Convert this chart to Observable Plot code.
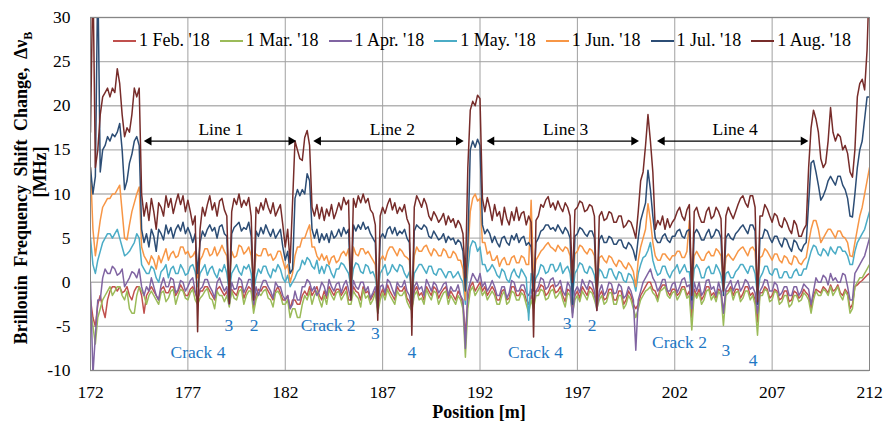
<!DOCTYPE html>
<html><head><meta charset="utf-8">
<script src="https://cdn.jsdelivr.net/npm/d3@7"></script>
<script src="https://cdn.jsdelivr.net/npm/@observablehq/plot@0.6"></script>
<style>
body{margin:0;background:#fff;}
#chart{position:relative;width:883px;height:421px;font-family:"Liberation Serif","Times New Roman",serif;}
#legend{position:absolute;left:113px;top:30px;display:flex;align-items:center;font-size:18px;color:#000;white-space:nowrap;}
.item{display:flex;align-items:center;margin-right:10px;}
.sw{width:23px;height:2px;margin-right:3px;}
</style></head><body><div id="chart"><div id="legend"></div></div>
<script>
const seriesNames = ["1 Feb. '18","1 Mar. '18","1 Apr. '18","1 May. '18","1 Jun. '18","1 Jul. '18","1 Aug. '18"];
const seriesColors = ["#C0504D","#9BBB59","#8064A2","#4BACC6","#F79646","#2C4D75","#772C2A"];
const xTicks = [172,177,182,187,192,197,202,207,212];
const yTicks = [-10,-5,0,5,10,15,20,25,30];

const position = [
172,172.125,172.25,172.375,172.5,172.625,172.75,172.875,
173,173.125,173.25,173.375,173.5,173.625,173.75,173.875,
174,174.125,174.25,174.375,174.5,174.625,174.75,174.875,
175,175.125,175.25,175.375,175.5,175.625,175.75,175.875,
176,176.125,176.25,176.375,176.5,176.625,176.75,176.875,
177,177.125,177.25,177.375,177.5,177.625,177.75,177.875,
178,178.125,178.25,178.375,178.5,178.625,178.75,178.875,
179,179.125,179.25,179.375,179.5,179.625,179.75,179.875,
180,180.125,180.25,180.375,180.5,180.625,180.75,180.875,
181,181.125,181.25,181.375,181.5,181.625,181.75,181.875,
182,182.125,182.25,182.375,182.5,182.625,182.75,182.875,
183,183.125,183.25,183.375,183.5,183.625,183.75,183.875,
184,184.125,184.25,184.375,184.5,184.625,184.75,184.875,
185,185.125,185.25,185.375,185.5,185.625,185.75,185.875,
186,186.125,186.25,186.375,186.5,186.625,186.75,186.875,
187,187.125,187.25,187.375,187.5,187.625,187.75,187.875,
188,188.125,188.25,188.375,188.5,188.625,188.75,188.875,
189,189.125,189.25,189.375,189.5,189.625,189.75,189.875,
190,190.125,190.25,190.375,190.5,190.625,190.75,190.875,
191,191.125,191.25,191.375,191.5,191.625,191.75,191.875,
192,192.125,192.25,192.375,192.5,192.625,192.75,192.875,
193,193.125,193.25,193.375,193.5,193.625,193.75,193.875,
194,194.125,194.25,194.375,194.5,194.625,194.75,194.875,
195,195.125,195.25,195.375,195.5,195.625,195.75,195.875,
196,196.125,196.25,196.375,196.5,196.625,196.75,196.875,
197,197.125,197.25,197.375,197.5,197.625,197.75,197.875,
198,198.125,198.25,198.375,198.5,198.625,198.75,198.875,
199,199.125,199.25,199.375,199.5,199.625,199.75,199.875,
200,200.125,200.25,200.375,200.5,200.625,200.75,200.875,
201,201.125,201.25,201.375,201.5,201.625,201.75,201.875,
202,202.125,202.25,202.375,202.5,202.625,202.75,202.875,
203,203.125,203.25,203.375,203.5,203.625,203.75,203.875,
204,204.125,204.25,204.375,204.5,204.625,204.75,204.875,
205,205.125,205.25,205.375,205.5,205.625,205.75,205.875,
206,206.125,206.25,206.375,206.5,206.625,206.75,206.875,
207,207.125,207.25,207.375,207.5,207.625,207.75,207.875,
208,208.125,208.25,208.375,208.5,208.625,208.75,208.875,
209,209.125,209.25,209.375,209.5,209.625,209.75,209.875,
210,210.125,210.25,210.375,210.5,210.625,210.75,210.875,
211,211.125,211.25,211.375,211.5,211.625,211.75,211.875,
212];

const feb = [
-2,-4,-5,-2.5,-1.5,-3,-4,-2,
-1,-0.5,-0.5,-1,-0.5,-1.2,-1,-0.5,
-1.5,-2,-1,-0.5,-0.5,-1.5,-3.5,-1.5,
-1,-0.5,-1,-1.5,-2,-0.8,-0.5,-1.2,
-1.2,-0.5,-0.5,-1.5,-1,-0.3,-0.8,-1.5,
-1.5,-0.8,-0.5,-1.2,-2,-1,-1,-0.5,
-0.5,-1,-1.5,-2,-0.8,-0.5,-1,-1.5,
-1,-2.5,-0.8,-1.2,-1.5,-0.5,-0.5,-1.8,
-1,-0.5,-0.8,-3,-1.5,-0.8,-1,-0.5,
-0.5,-1,-1.5,-2,-1,-0.5,-1.2,-2,
-2,-1.5,-3,-2,-2,-2.5,-2.5,-1.5,
-1,-1.5,-0.5,-1.5,-1,-0.5,-1.5,-2,
-1,-1.8,-0.5,-1,-1.5,-0.8,-0.8,-1.5,
-1,-0.5,-2,-2,-0.5,-1,-1.2,-2,
-0.5,-1.2,-1,-2,-1.5,-1,-3,-1.5,
-0.8,-1.5,-0.3,-1,-1.5,-2,-0.5,-1,
-1,-0.5,-1.8,-2.2,-3,-1,-0.5,-1.5,
-1.2,-2,-0.5,-1,-1.5,-0.5,-0.8,-1.8,
-1.2,-0.8,-0.5,-1.8,-1,-1.5,-2,-1,
-1.5,-2.5,-6,-2,-0.5,0,-1,-0.5,
0,-1,-0.5,-1.5,-1,-0.5,-1,-2,
-2,-1,-0.8,-2,-1.8,-0.5,-0.5,-1.5,
-1.5,-0.8,-1,-2,-2.5,-1.5,-2.5,-1,
-1,-0.3,-0.5,-1.5,-1.2,-0.5,-0.3,-1.2,
-1,-0.5,-1.5,-2.2,-0.8,-1,-3,-1.5,
-1,-1.8,-0.5,-1,-1.5,-0.5,-0.8,-1.5,
-2.5,-1.5,-1,-2,-1.8,-0.8,-0.8,-2,
-2,-1,-1,-2.5,-2,-1,-1.5,-2.5,
-3,-2.5,-1.5,-1,-0.5,0,0,-0.8,
-1,-1.8,-0.8,-0.3,-0.3,-1,-1.5,-0.8,
-0.8,-1.5,-1.2,-0.5,-0.5,-1.5,-1,-4,
-0.8,-1.5,-0.8,-2,-1.5,-0.5,-0.5,-1.5,
-1.2,-1.8,-0.8,-1,-3.5,-1,-1,-0.5,
-1.5,-0.8,-0.8,-1.8,-1.3,-0.5,-0.5,-1.5,
-1.2,-2,-4.5,-1.2,-1.2,-0.5,-0.8,-1.8,
-1.5,-0.8,-1,-2,-1.8,-1,-1,-2.2,
-2,-1,-1.2,-1.8,-1.5,-0.8,-1.2,-1.5,
-3,-1.5,-0.8,-1,-1.2,-0.5,-0.8,-1.2,
-0.3,-1,-0.8,-0.3,-1.2,-1.5,-0.8,-1.2,
-3,-2.5,-0.5,-0.3,0,0.2,0.5,0.8,
1];

const mar = [
-3,-5,-7,-4,-3,-2,-1.5,-1,
-0.5,-1.5,-1,-0.5,-0.5,-1.5,-2,-1,
-3,-3.5,-3.5,-1.5,-0.5,-1,-1.5,-2.5,
-1.5,-1,-1.5,-2,-2.5,-1.2,-1,-2.2,
-1.8,-1,-0.8,-2.5,-1.5,-0.8,-1,-1.8,
-2,-1.2,-0.8,-2,-2.5,-1.8,-1.5,-1,
-0.7,-1.8,-2,-3,-1,-1.5,-1.5,-2.2,
-1.5,-2.8,-1,-1.8,-2,-1,-0.8,-2.5,
-1.5,-1,-1,-3.5,-2,-1.2,-1.5,-1,
-0.8,-1.8,-2,-2.8,-1.2,-1,-1.5,-2.5,
-2.5,-2,-4,-3,-3,-4,-4,-2.5,
-1.5,-2,-1,-2.5,-1.5,-1,-2,-2.8,
-1.5,-2.5,-0.8,-1.5,-2,-1.2,-1,-2,
-1.5,-1,-2.5,-2.5,-1,-1.5,-1.8,-2.8,
-0.8,-1.8,-1.5,-2.5,-2,-1.2,-3.5,-2,
-1.2,-2,-0.8,-1.5,-2,-2.5,-1,-1.5,
-1.5,-1,-2.2,-2.8,-3.2,-1.5,-1,-2,
-1.8,-2.5,-0.8,-1.5,-2,-1,-1.2,-2.5,
-1.8,-1.2,-1,-2.5,-1.5,-2,-2.5,-1.5,
-2,-3,-8.5,-3,-1,-0.5,-1.5,-1,
-0.5,-1.5,-1,-2,-1.5,-1,-1.5,-2.5,
-2.5,-1.5,-1,-2.5,-2.2,-1,-1.2,-2,
-2,-1.2,-1.5,-2.5,-3.5,-2,-3,-1.5,
-1.5,-0.8,-1,-2,-1.8,-1,-0.8,-1.8,
-1.5,-1,-2,-2.8,-1.2,-1.5,-3.5,-2,
-1.5,-2.2,-1,-1.5,-2,-1,-1.2,-2,
-3,-2,-1.5,-2.5,-2.2,-1.2,-1.2,-2.5,
-2.5,-1.5,-1.5,-3,-2.5,-1.5,-2,-3,
-4,-3,-2,-1.5,-1,-0.8,-0.5,-1.2,
-1.5,-2.2,-1,-0.8,-0.5,-1.5,-1.8,-1.2,
-1,-2,-1.5,-0.8,-0.8,-1.8,-1.5,-5.4,
-1.2,-1.8,-1.2,-2.5,-2,-1,-0.8,-2,
-1.5,-2.2,-1,-1.5,-4.9,-1.5,-1.2,-0.8,
-2,-1.2,-1,-2.2,-1.8,-1,-1,-2,
-1.5,-2.5,-6,-1.5,-1.5,-0.8,-1,-2.2,
-2,-1,-1.2,-2.5,-2.2,-1.5,-1.5,-2.8,
-2.5,-1.5,-1.5,-2.2,-2,-1.2,-1.5,-2,
-3.5,-2,-1,-1.5,-1.5,-0.8,-1,-1.5,
-0.5,-1.5,-1,-0.5,-1.5,-2,-1,-1.5,
-3.5,-3,-0.5,0,0.5,0.5,1,1.5,
2];

const apr = [
0,-10.5,-6,-2,-2,0.5,1.5,1,
1,1.8,1.5,0.8,1,1.5,-0.5,0,
0.5,1.2,1,0.5,1.5,-0.5,-1.5,-0.5,
-1,0.5,-0.5,-1.5,-2,-0.3,0.5,-0.5,
-0.5,0.5,0.3,-1.2,-0.8,0.2,0,-1,
-0.5,0.2,0.5,-1,-2,-0.8,-0.5,0.3,
0.3,-0.5,-1,-1.8,0,0.5,-0.3,-1,
-0.5,-2.5,0,-0.8,-0.7,0.5,0.2,-1.2,
-0.5,0.3,0.3,-2.5,-0.5,-1.5,-0.5,0.2,
0.2,-0.5,-1,-1.8,0,-0.5,-0.5,-1.5,
-2,-1.5,-3,-2.5,-1,-2,-2,-0.5,
-0.5,0.3,0,-1,-0.5,-1.5,-1,0,
-0.5,-1.5,0.3,-0.5,-1,-0.2,0,-1.2,
-0.3,0.2,-0.8,-2,0.2,-0.5,-0.8,0,
0,-1,-0.5,-1.8,-1.2,-0.5,-3,-0.5,
-0.3,-1.2,0.3,0,-0.8,-1.5,0,-0.5,
-0.5,0.2,-1,-1.5,-3,-0.5,0,-0.8,
-0.5,-1.5,0.3,-0.3,-1,0,-0.3,-1.2,
-0.8,-0.2,0,-1.5,-0.5,-1,-1,-0.3,
-1.5,-2,-7.5,-1,0,1,0.5,0,
1,-0.5,0,-1,-0.5,0.2,-0.5,-1.5,
-1.5,-0.5,-0.5,-1.8,-1.2,0.2,0,-1,
-1,-0.3,-0.3,-1.2,-1.5,-0.8,-2.5,-1,
-0.5,0.5,0.3,-0.8,-0.5,0.3,0.5,-0.5,
-0.3,0.2,-1,-1.5,0,-0.5,-4,-1,
-0.5,-1.2,0.3,-0.3,-0.8,0.2,0,-1,
-3.2,-1,-0.3,-1.5,-1,0,-0.2,-1.3,
-1.2,-0.2,-0.5,-1.8,-1.5,-0.5,-1,-2,
-7.7,-2,-1,0,0.5,1,1.5,0.5,
0,-1,-0.5,0.3,0.3,-1,-1,-0.2,
0,-1.2,-0.5,0.3,0.5,-0.5,-0.3,-3,
0,-1,0,-1.5,-1,0.2,0.3,-0.8,
-0.5,-1.5,0,-1,-3.5,-0.8,-0.3,0.2,
-1,-0.3,0.2,-1,-0.5,0.3,0,-0.8,
-0.5,-1.2,-3.5,-1,-0.5,0.3,0.2,-1,
-1,0,-0.3,-1.5,-1.2,-0.5,-0.5,-1.5,
-1.5,-0.5,-0.5,-1.5,-1,-0.2,-0.5,-0.8,
-2.5,-1,0.5,0,0,0.8,0.5,-0.3,
1,0.2,0.5,0,0,1,0.8,-0.5,
-2,-2,1,1.5,2,2.5,3,4,
5];

const may = [
5,2,1,2.5,3.5,4.5,5,5.5,
5.5,5,5.5,6,5,4,3,3.2,
3.5,4,4.5,5.5,5,2,1.5,1,
1,1.8,1.5,0.5,0,1.2,1.5,2,
0.5,1.5,1.8,1,1,2,1.5,0.8,
1,1.8,2,1.2,-0.5,1,1.5,2,
0.8,1.5,1.8,1,0.5,1.5,1.2,2,
1,-1,1,1.5,2,1.2,0.8,1.8,
1.5,2,1,-1,0.5,1.5,1,1.8,
1.8,1,0.5,1.5,1.2,2,1.5,0.5,
0,0.8,-0.5,0,0.5,1.2,1.5,2.5,
2,2.8,2.5,1.8,1.5,2.5,1,1.8,
1,2,1.8,1,0.5,1.5,1.5,2.2,
2,1.5,1,-0.5,1.5,2.2,2,1.2,
1,2,1.8,1,1.2,0.5,-1.5,1,
1.5,2,0.8,1.2,2,1.5,1.2,2,
1.8,1,0.5,1.2,-1.5,1,1.5,2,
2,1.5,1,1.8,1.8,1,0.8,1.5,
1.5,1,0.5,1.2,1.2,0.5,0.8,1.2,
0.5,0,-2.5,1.5,4,4.7,4.5,3.5,
4,2,2,1.2,1.5,2,1.5,0.8,
0.5,1.5,1.2,0.3,0,1,1.5,0.8,
0.5,1.5,1,0.5,-4.3,1,-0.5,0.5,
1,2,1.8,1,1.2,2,2,1.2,
1.5,2.2,1,1.5,1.8,1,-1.5,1,
1.5,2.2,2,1.2,1,1.8,1.5,0.8,
-1,1.5,1.2,0.5,0.5,1.5,1.5,0.8,
0.3,1.2,1,0.2,0,1,0.8,0.2,
-1,1,2,2.8,3,3.6,4.5,2.5,
1.5,0.8,1,1.8,1.8,1,0.5,1.2,
1.5,2,1,1.5,2,1.2,1.2,-1.5,
1.5,2,1.5,0.5,0.5,1.5,1.8,1,
1,2,1.5,0.8,-1,1,1.2,0.5,
0.5,1.2,1.5,2,2,1.5,1,1.8,
1.8,1,-1.5,0.5,1,1.8,1.8,1,
0.8,1.5,1.5,0.5,0.5,1.2,1.2,0.5,
0.5,1.2,1.5,0.8,0.8,1.5,1.5,2.5,
3.5,4.2,4,3.2,3,3.8,3.5,3,
4,3.5,3.2,4,4,3.5,3.5,3,
2,2,3.5,4.5,5,5.5,6,7,
8];

const jun = [
13,6,3,5,7,8.5,9,9.5,
9.5,10,10,10.5,11,8,5,4.8,
6.5,8,9,10,10.8,4,3,2.5,
2,3,2.5,1.5,3,2.2,3,3.8,
2.5,3.2,3.5,2.8,3,4,4,3.2,
3.5,2.8,3,3.5,0.5,2.5,3,3.8,
3.8,3,3.2,4,3,3.5,4.2,3.5,
3,-0.5,3.5,2.8,3,4.2,4,3.2,
3.5,4,3,0,3.2,3,3,3.8,
3.8,3,3.2,2.5,2.8,3.5,3.5,2.5,
1.5,2,0,1,3,4,4,5,
5,5.8,6.5,4,4,3,2.5,3.2,
2.5,3,2,2.8,3,2.2,2.5,3.2,
3.5,3,3.8,-0.5,4,3.2,3,3.8,
3.8,3.2,3.5,3,2.5,2,-2,2.5,
3,2.5,3.5,4,4,3.5,3,3.8,
3.5,3,2.8,2.5,-2,3,4,3.5,
3.5,4,4.2,3.5,3,3.8,3.5,3,
3,3.8,3.5,2.8,2.8,3.5,3.2,2.5,
2.5,1.5,-2,3,8,9.5,10,9.2,
9.5,4.5,4.5,3.2,3.5,2.5,2.5,3,
1.8,2.5,2.8,2,2,2.8,3,2.2,
2.2,3,2.8,2,2,9.3,0.5,2.5,
3,3.5,3.8,4.2,4.5,4,3.8,3.5,
4.2,3.8,3.5,4,3.8,3,-1,3.2,
3.5,4.2,4,3.5,3.2,3.8,3.6,3,
-1,2.8,3,2.5,2.2,3,2.8,2.2,
1.8,2.5,2.3,1.8,1.5,2.2,1.8,1.2,
-0.5,2.5,4,5,6,8.9,7,4.5,
3,2.5,2.5,3.2,3.2,2.8,2.5,3,
3,3.5,3.5,2.8,2.8,3.5,7,-1,
3,3.5,3,2.5,2.5,3.2,3.5,3,
3,3.8,3.5,3,-0.5,2.8,3.2,2.8,
2.5,3,3.5,3.8,4,3.5,3,3.8,
4,3.5,-1,2.8,3,3.8,3.5,3,
2.5,3.2,3.2,2.5,2.2,3,2.8,2.2,
2,3,2.8,2.2,2,2.5,2.8,4.5,
6,7,7,6,4.5,5,5.5,6,
6,5.5,5,5.8,5.8,5.2,5,4.5,
3,2.9,4.5,6,7.5,8.5,10,11.5,
13];

const jul = [
13,10,12,35,12.5,15,15.5,16.5,
16,16.8,16.5,17,18,15,10.5,11.5,
13.5,14.5,16,16.5,15.5,6,4.5,5.5,
4,6,5.2,3.5,6,5.5,4.8,6.5,
5.5,6.2,5,6,6.5,5.8,6.8,5.5,
6.2,5.5,4.5,5.5,1,4.5,5.8,5.2,
6,6.5,5.8,6.2,5,6.3,6.5,5.5,
5.2,-2.2,5.5,6.2,6.5,6.8,5.8,6.2,
6,6.8,5.2,-1.7,5.8,5.2,6.2,5.5,
6.5,5.8,5.2,6,5,5.5,6,4,
2.5,3.5,1,1.5,9.5,10.5,9.8,10.5,
10,12.3,11.5,6,5,6,4.5,5.5,
4.8,5.5,4.5,5.8,5,5.3,6,5.2,
6.2,5.5,6,-1.5,6.5,5.8,6.5,6,
6.8,6,6.3,5.5,5,4.5,-3.5,5,
5.5,5,6,6.3,5.5,6.2,5.3,5.8,
5.5,6,5,4.5,-4,5.8,6.5,6.2,
6,6.5,6.2,5.2,5,5.8,5.3,4.8,
5,5.5,4.5,5.2,4.8,5,4.3,4.8,
4.5,3.5,-1,4,15,16,15.3,16.2,
15.5,6.5,5.5,6,5.5,4.5,5.2,4.5,
4,5,5.2,4.5,4.2,5.3,4.8,5.5,
4.5,5,5.2,4.2,4.5,4,-1,4.5,
5,5.8,6,6.5,6.5,6,6.2,5.8,
6.5,6,5.5,6.2,5.8,5,-2.5,5.2,
5.5,6.2,6,5.5,5.2,5.8,5.8,5,
-2,4.8,5.3,4.5,4.5,5.2,5,4.3,
4.3,4.8,4.8,4,3.8,4.5,4.2,3.6,
2.5,5,7,8,9,12.7,10.5,7.5,
5,4.5,4.5,5.2,5.5,4.8,4.5,5.2,
5.2,5.8,6,5.2,5,5.8,6,-2,
5.5,6,5.5,4.8,4.8,5.5,6,5,
5.3,6,5.8,5,-1.5,5,5.5,5,
4.8,5.5,5.8,6.2,6.5,6,5.5,6.5,
6.5,5.8,-2.5,5,5,6,5.8,5,
4.5,5.2,5.2,4.5,4,5,4.8,4,
3.5,4.8,4.5,3.8,3.5,4.2,4.5,9,
13.5,13.8,12.5,11,9.3,9.8,10.5,11.5,
12,11.5,11,12,12,11,10.5,9.5,
7.5,7.4,10,13,15,16,18.5,21,
21];

const aug = [
17,35,13,15,19,21,21.5,22,
21,22,21.5,24.2,22.5,19,16.5,17.5,
17,19,22,21,22,10,7.5,9,
7,9.5,8,6,9,8.5,7.5,9.8,
8.5,9.5,7.8,9,10,8.8,9.8,8,
9.3,8,6.5,7.5,-5.6,6,8.5,7.5,
8.8,9.8,8.2,9,7.5,9.2,9.5,8.2,
7.5,-2.4,8,9.5,8.8,10,8.5,9.3,
8.7,9.6,7.5,-2,8.5,7.8,9,8.2,
9.5,8.5,7.8,9,7.5,8.2,8.8,6.5,
4,6,2.2,9,16,15,14,13.8,
16.4,17.2,15.5,8.5,7.5,8.8,7.2,8.5,
7,8.3,7.5,8.8,7.2,8,9,8.2,
9.6,8.8,9.3,-2,9.5,8.5,9.8,9,
10,9,9.5,8.2,7.8,6.5,-4.3,7.5,
8.5,7.8,8.8,9.5,8.2,9,7.8,8.5,
8,8.8,7.2,6.5,-6,8.5,9.8,9.2,
8.5,9.5,8.8,7.5,7,8,7.5,6.8,
7.2,7.8,6.5,7.5,6.8,7.2,6.2,7,
6.5,5.5,0.5,13,19.5,20.5,20,21.2,
20.8,9.5,8,9.6,8.5,7,8.8,7.5,
8,6.5,8.5,7.2,6.5,8,7,8.5,
7,7.8,8,6.5,7.5,6.8,-6.2,7,
7.5,8.8,8.5,9.3,9.7,8.5,9,8.2,
9.2,8.5,8,9,8.5,7.5,0,8.2,
8.5,9.2,9,8,8.2,8.8,8.6,7.5,
-3.2,7.5,8,7,7.2,8,7.8,6.8,
6.8,7.5,7.5,6.2,6.5,7,6.8,6,
5,8,11.5,12.5,15.5,19,16,12.5,
6,7,6.5,7.5,6,7.2,6.2,6.8,
7.2,8,8.5,7.5,7,8.2,8.8,-1.5,
8,8.5,7.5,6.8,6.8,8,8.5,7.2,
7.5,8.5,8,7.2,-1,7.5,8.5,7.8,
7.2,8,8.8,9.5,9.8,9,8.5,9.8,
9.8,8.5,-2.2,7.5,7.5,8.8,8.3,7.5,
6.8,7.8,7.5,6.5,6.2,7.3,6.8,6,
5.5,7,6.5,5.2,5.2,6,6.5,13,
17.5,19.5,18.5,17,14,13,13.5,16,
19.8,17,16,16.8,16.5,15,15.5,14.6,
12.5,11.9,15,21,22.5,23,21.8,26.3,
35];

// annotations
const lineLabels = ["Line 1","Line 2","Line 3","Line 4"];
const lineStart = [175.0, 183.7, 192.6, 201.35];
const lineEnd = [182.3, 190.9, 199.9, 208.6];
const lineLabelAt = [178.7, 187.5, 196.4, 205.1];
const arrowLevel = 16;
const lineLabelLevel = 17.3;

const crackLabels = ["Crack 4","3","2","Crack 2","3","4","Crack 4","3","2","Crack 2","3","4"];
const crackAt = [177.52,179.11,180.4,184.2,186.63,188.5,194.85,196.48,197.76,202.24,204.63,206.02];
const crackLevel = [-7.9,-4.9,-4.9,-4.9,-5.8,-7.9,-7.9,-4.7,-4.9,-6.8,-7.7,-8.8];

const seriesValues = [feb, mar, apr, may, jun, jul, aug];
const rows = [];
seriesNames.forEach((s, k) => position.forEach((p, i) => rows.push({series: s, position: p, value: seriesValues[k][i]})));
const lines = lineLabels.map((l, i) => ({label: l, x1: lineStart[i], x2: lineEnd[i], xm: lineLabelAt[i]}));
const cracks = crackLabels.map((l, i) => ({label: l, x: crackAt[i], y: crackLevel[i]}));

const plot = Plot.plot({
  width: 883, height: 421,
  marginLeft: 90, marginRight: 14, marginTop: 17, marginBottom: 51,
  style: {fontFamily: "'Liberation Serif','Times New Roman',serif", fontSize: "17.5px", color: "#000", background: "transparent", overflow: "visible"},
  x: {domain: [172, 212], ticks: xTicks, tickSize: 0, tickPadding: 15, tickFormat: d => String(d), label: null},
  y: {domain: [-10, 30], ticks: yTicks, tickSize: 0, tickPadding: 20, tickFormat: d => String(d), label: null},
  color: {domain: seriesNames, range: seriesColors},
  marks: [
    Plot.ruleY(yTicks, {stroke: "#b4b4b4", strokeWidth: 1.3}),
    Plot.ruleX(xTicks, {stroke: "#a0a0a0", strokeWidth: 1}),
    Plot.line(rows, {x: "position", y: "value", z: "series", stroke: "series", strokeWidth: 1.5, strokeLinejoin: "round", clip: true}),
    Plot.frame({stroke: "#868686"}),
    Plot.link(lines, {x1: "x1", x2: "x2", y1: arrowLevel, y2: arrowLevel, stroke: "#000", strokeWidth: 1.3}),
    Plot.dot(lines, {x: "x1", y: arrowLevel, symbol: "triangle", rotate: -90, r: 3.3, fill: "#000", stroke: null}),
    Plot.dot(lines, {x: "x2", y: arrowLevel, symbol: "triangle", rotate: 90, r: 3.3, fill: "#000", stroke: null}),
    Plot.text(lines, {x: "xm", y: lineLabelLevel, text: "label", fill: "#000", fontSize: 17.5}),
    Plot.text(cracks, {x: "x", y: "y", text: "label", fill: "#1f78c4", fontSize: 17.5})
  ]
});
document.getElementById("chart").prepend(plot);

const svg = d3.select(plot);
const t1 = svg.append("text")
  .attr("transform", "translate(21,188) rotate(-90)")
  .attr("text-anchor", "middle").attr("dominant-baseline", "central")
  .style("font-weight", "bold").style("font-size", "18px").style("word-spacing", "4px").attr("fill", "#000");
t1.append("tspan").text("Brillouin Frequency Shift Change, Δν");
t1.append("tspan").attr("baseline-shift", "sub").style("font-size", "12px").text("B");
svg.append("text")
  .attr("transform", "translate(40,172) rotate(-90)")
  .attr("text-anchor", "middle").attr("dominant-baseline", "central")
  .style("font-weight", "bold").style("font-size", "18px").attr("fill", "#000")
  .text("[MHz]");
svg.append("text")
  .attr("x", 479).attr("y", 412)
  .attr("text-anchor", "middle").attr("dominant-baseline", "central")
  .style("font-weight", "bold").style("font-size", "18px").attr("fill", "#000")
  .text("Position [m]");

const legend = document.getElementById("legend");
seriesNames.forEach((s, i) => {
  const it = document.createElement("div"); it.className = "item";
  const sw = document.createElement("div"); sw.className = "sw"; sw.style.background = seriesColors[i];
  const tx = document.createElement("span"); tx.textContent = s;
  it.append(sw, tx); legend.append(it);
});
</script>
</body></html>
